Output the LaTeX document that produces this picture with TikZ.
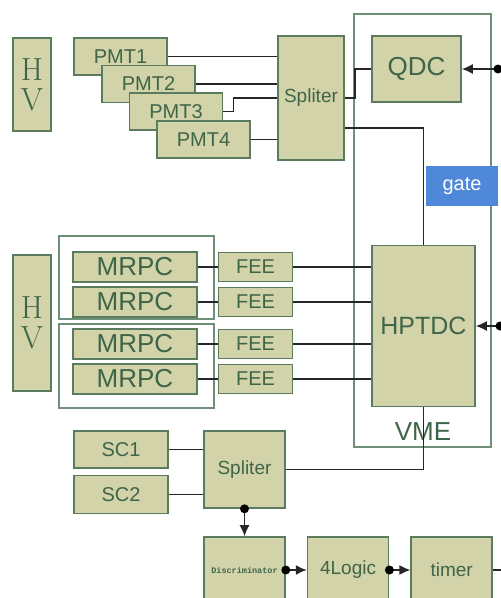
\documentclass[tikz,border=0pt]{standalone}
\usepackage{fontspec}
\setsansfont{Liberation Sans}
\setmonofont{Liberation Mono}
\usepackage{tikz}
\usetikzlibrary{arrows.meta,positioning}
\definecolor{boxfill}{HTML}{D2D3A8}
\definecolor{boxline}{HTML}{5B7B5E}
\definecolor{boxtext}{HTML}{3F6548}
\definecolor{frameline}{HTML}{6E8F78}
\definecolor{gateblue}{HTML}{4F88D8}

\begin{document}
\begin{tikzpicture}[x=1pt, y=-1pt, >={Latex[length=11pt,width=10pt]},
    block/.style={rectangle, draw=boxline, fill=boxfill, line width=1.6pt, inner sep=0pt, text=boxtext, font=\sffamily\fontsize{20}{22}\selectfont},
    bigblock/.style={block, font=\sffamily\fontsize{26}{28}\selectfont},
    hvblock/.style={block, minimum width=38pt, align=center, font=\fontsize{32}{30}\selectfont},
    frame/.style={rectangle, draw=frameline, line width=1.4pt, inner sep=0pt},
    wire/.style={draw=black!85, line width=1.5pt},
    dot/.style={fill=black}]
    \clip (0,0) rectangle (501,598);

    % frames
    \node [frame, minimum width=137pt, minimum height=433pt] (vme) at (422.5,230.5) {};
    \node [frame, minimum width=155pt, minimum height=83pt] (grp1) at (136.5,277.5) {};
    \node [frame, minimum width=155pt, minimum height=84pt] (grp2) at (136.5,366) {};
    \node [text=boxtext, font=\sffamily\fontsize{26}{28}\selectfont] (vmelabel) at (423,432) {VME};

    % high voltage
    \node [hvblock, minimum height=93pt] (hv1) at (32,84.5) {H\\V};
    \node [hvblock, minimum height=136pt] (hv2) at (32,323) {H\\V};

    % PMT part
    \node [block, minimum width=93pt, minimum height=37pt] (pmt1) at (120.5,56.5) {PMT1};
    \node [block, minimum width=93pt, minimum height=37pt] (pmt2) at (148.5,84) {PMT2};
    \node [block, minimum width=93pt, minimum height=37pt] (pmt3) at (176,111.5) {PMT3};
    \node [block, minimum width=93pt, minimum height=37pt] (pmt4) at (203.5,139.5) {PMT4};
    \node [block, minimum width=66pt, minimum height=124pt, font=\sffamily\fontsize{19}{21}\selectfont] (spl1) at (311,98) {Spliter};
    \node [bigblock, minimum width=89pt, minimum height=66pt] (qdc) at (416.5,69) {QDC};
    \node [bigblock, minimum width=103pt, minimum height=161pt, font=\sffamily\fontsize{25}{27}\selectfont] (hptdc) at (423.5,326) {HPTDC};

    % MRPC part
    \foreach \i/\y in {1/267,2/302,3/344,4/379} {
        \node [bigblock, minimum width=124pt, minimum height=30pt] (mrpc\i) at (135,\y) {MRPC};
        \node [block, minimum width=74pt, minimum height=29pt, right=20pt of mrpc\i] (fee\i) {FEE};
    }

    % trigger part
    \node [block, minimum width=94pt, minimum height=37pt] (sc1) at (121,449.5) {SC1};
    \node [block, minimum width=94pt, minimum height=38pt, below=6pt of sc1] (sc2) {SC2};
    \node [block, minimum width=81pt, minimum height=77pt, font=\sffamily\fontsize{19}{21}\selectfont] (spl2) at (244.5,469.5) {Spliter};
    \node [block, minimum width=81pt, minimum height=66pt, font=\ttfamily\bfseries\fontsize{8.5}{9}\selectfont] (disc) at (244.5,570) {Discriminator};
    \node [block, minimum width=81pt, minimum height=66pt, font=\sffamily\fontsize{19}{21}\selectfont, right=21pt of disc] (logic) {4Logic};
    \node [block, minimum width=81pt, minimum height=66pt, font=\sffamily\fontsize{19}{21}\selectfont, right=21pt of logic] (timer) {timer};

    \coordinate (qdcin) at (498,69);
    \coordinate (tdcin) at (500,326);
    \coordinate (timerout) at (501,570);

    % wires
    \draw [wire] (pmt1.east) -- (pmt1.east -| spl1.west);
    \draw [wire] (pmt2.east) -- (pmt2.east -| spl1.west);
    \draw [wire] (pmt3.east) -- ++(10,0) |- (spl1.west);
    \draw [wire] (pmt4.east) -- (pmt4.east -| spl1.west);
    \draw [wire] (spl1.east) -- ++(10,0) |- (qdc.west);
    \draw [wire] ([yshift=-30pt]spl1.east) -| (hptdc.north);
    \foreach \i in {1,...,4} {
        \draw [wire] (mrpc\i.east) -- (fee\i.west);
        \draw [wire] (fee\i.east) -- (fee\i.east -| hptdc.west);
    }
    \draw [wire] (sc1.east) -- (sc1.east -| spl2.west);
    \draw [wire] (sc2.east) -- (sc2.east -| spl2.west);
    \draw [wire] (spl2.east) -| (hptdc.south);

    % arrows with dots
    \draw [wire, ->] (qdcin) -- (qdc.east);
    \draw [wire, ->] (tdcin) -- (hptdc.east);
    \draw [wire, ->] (spl2.south) -- (disc.north);
    \draw [wire, ->] (disc.east) -- (logic.west);
    \draw [wire, ->] (logic.east) -- (timer.west);
    \draw [wire] (timer.east) -- (timerout);
    \fill [dot] (qdcin) circle (4.5);
    \fill [dot] (tdcin) circle (4.5);
    \fill [dot] (spl2.south) circle (4.5);
    \fill [dot] (disc.east) circle (4.5);
    \fill [dot] (logic.east) circle (4.5);

    % gate on top of the frame
    \node [rectangle, fill=gateblue, inner sep=0pt, minimum width=72pt, minimum height=40pt, text=white, font=\sffamily\fontsize{20}{22}\selectfont] (gate) at (462,186) {gate};
\end{tikzpicture}
\end{document}
